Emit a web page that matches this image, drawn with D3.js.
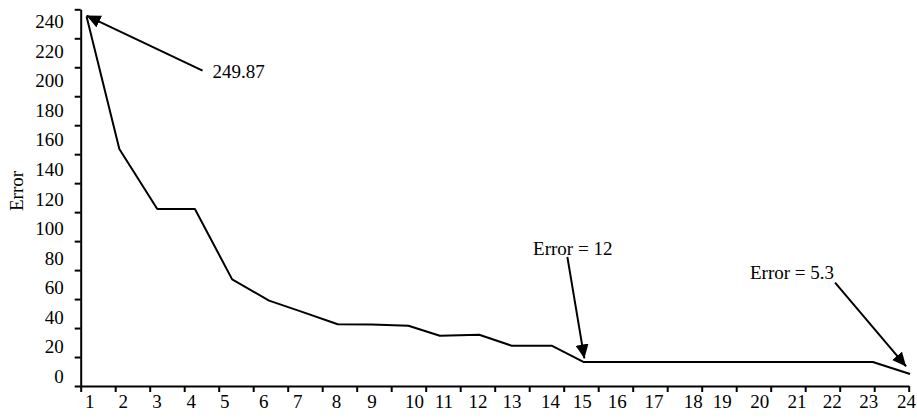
<!DOCTYPE html>
<html style="width:100%; height:100%">
    <head>
        <meta charset="utf-8">
        <script src="https://d3js.org/d3.v7.min.js"></script>
        <style>
            body { margin: 0; background: #fff; }
        </style>
    </head>

    <body>
        <svg id="chart" width="917" height="418"></svg>
        <script>
            /* Chart data: error after each iteration. iterX is where each point
            sits on the 0..24 axis, labelX is where its number is printed. */
            var iterLabels= ["1","2","3","4","5","6","7","8","9","10","11","12",
                             "13","14","15","16","17","18","19","20","21","22","23","24"];
            var iterX= [0.17, 1.12, 2.22, 3.31, 4.39, 5.46, 6.44, 7.45, 8.43, 9.50, 10.41, 11.55,
                        12.49, 13.65, 14.57, 15.54, 16.60, 17.74, 18.58, 19.67, 20.75, 21.77, 22.96, 24.04];
            var labelX= [0.25, 1.22, 2.20, 3.19, 4.16, 5.29, 6.28, 7.40, 8.43, 9.66, 10.51, 11.50,
                         12.49, 13.60, 14.52, 15.54, 16.60, 17.74, 18.58, 19.67, 20.75, 21.77, 22.83, 23.92];
            var errorValues= [255, 163.6, 122.2, 122.2, 73.6, 58.9, 51, 42.6, 42.4, 41.6, 34.7, 35.4,
                              27.8, 27.8, 16.6, 16.6, 16.6, 16.6, 16.6, 16.6, 16.6, 16.6, 16.6, 8.3];
            var yTickValues= [0, 20, 40, 60, 80, 100, 120, 140, 160, 180, 200, 220, 240, 260];
            var yLabelValues= [0, 20, 40, 60, 80, 100, 120, 140, 160, 180, 200, 220, 240];
            var annotIndex= [0, 14, 23];
            var annotText= ["249.87", "Error = 12", "Error = 5.3"];

            var FONT= "'Liberation Serif', 'DejaVu Serif', serif";

            var svg= d3.select("#chart");

            var x= d3.scaleLinear().domain([0, 24]).range([80.7, 908.7]);
            var y= d3.scaleLinear().domain([0, 260]).range([386, 9.3]);
            //the printed numbers sit a bit off the tick marks in the original
            var yLab= d3.scaleLinear().domain([0, 240]).range([376.3, 21.7]);

            //x axis: ticks only, numbers placed separately
            var gx= svg.append("g")
                .attr("transform", "translate(0,386)")
                .call(d3.axisBottom(x).tickValues(d3.range(0, 25)).tickSize(6)
                    .tickSizeOuter(0).tickFormat(""));
            gx.select(".domain").attr("stroke-width", 2);
            gx.selectAll(".tick line").attr("stroke-width", 2);

            var gxl= svg.append("g")
                .attr("transform", "translate(0,386)")
                .call(d3.axisBottom(x).tickValues(labelX).tickSize(0).tickPadding(8.5)
                    .tickFormat(function (d, i) { return iterLabels[i]; }));
            gxl.select(".domain").remove();
            gxl.selectAll("text").style("font-size", "19px").style("font-family", FONT);

            //y axis
            var gy= svg.append("g")
                .attr("transform", "translate(80.7,0)")
                .call(d3.axisLeft(y).tickValues(yTickValues).tickSize(6)
                    .tickSizeOuter(0).tickFormat(""));
            gy.select(".domain").attr("stroke-width", 2);
            gy.selectAll(".tick line").attr("stroke-width", 2);

            var gyl= svg.append("g")
                .attr("transform", "translate(80.7,0)")
                .call(d3.axisLeft(yLab).tickValues(yLabelValues).tickSize(0).tickPadding(17));
            gyl.select(".domain").remove();
            gyl.selectAll("text").style("font-size", "19px").style("font-family", FONT);

            svg.append("text")
                .attr("transform", "translate(23,191) rotate(-90)")
                .attr("text-anchor", "middle")
                .style("font-size", "19px")
                .style("font-family", FONT)
                .text("Error");

            //the error curve
            var line= d3.line()
                .x(function (d, i) { return x(iterX[i]); })
                .y(function (d) { return y(d); });
            svg.append("path")
                .datum(errorValues)
                .attr("d", line)
                .attr("fill", "none")
                .attr("stroke", "#000")
                .attr("stroke-width", 2)
                .attr("stroke-linejoin", "round");

            //arrow annotations, offsets in pixels from the point they mark
            var annotLayout= [
                {tip: [0, -1], tail: [116, 54], text: [126, 61.5], anchor: "start"},
                {tip: [1, -3.5], tail: [-16, -105], text: [-10.6, -107.4], anchor: "middle"},
                {tip: [-4, -7.5], tail: [-75, -91.3], text: [-76, -95], anchor: "end"}
            ];

            svg.append("defs").append("marker")
                .attr("id", "head")
                .attr("markerUnits", "userSpaceOnUse")
                .attr("markerWidth", 15)
                .attr("markerHeight", 13)
                .attr("refX", 14)
                .attr("refY", 6.5)
                .attr("orient", "auto")
                .append("path")
                .attr("d", "M0,0 L14,6.5 L0,13 Z")
                .attr("fill", "#000");

            for (var k= 0; k < annotIndex.length; k++) {
                var idx= annotIndex[k];
                var px= x(iterX[idx]);
                var py= y(errorValues[idx]);
                var lay= annotLayout[k];
                svg.append("line")
                    .attr("x1", px + lay.tail[0])
                    .attr("y1", py + lay.tail[1])
                    .attr("x2", px + lay.tip[0])
                    .attr("y2", py + lay.tip[1])
                    .attr("stroke", "#000")
                    .attr("stroke-width", 2)
                    .attr("marker-end", "url(#head)");
                svg.append("text")
                    .attr("x", px + lay.text[0])
                    .attr("y", py + lay.text[1])
                    .attr("text-anchor", lay.anchor)
                    .style("font-size", "19px")
                    .style("font-family", FONT)
                    .text(annotText[k]);
            }
        </script>
    </body>
</html>
